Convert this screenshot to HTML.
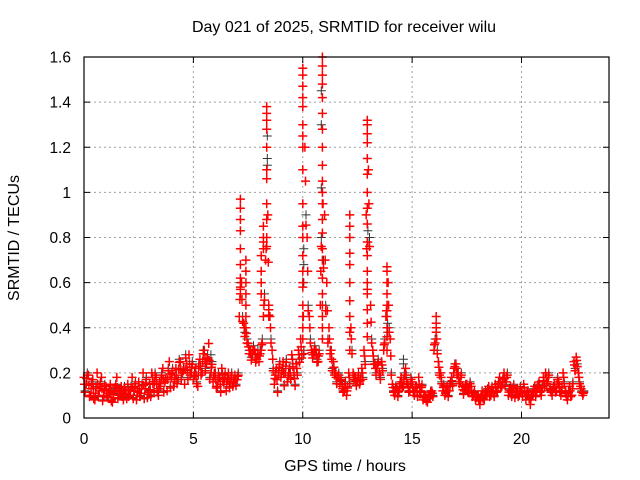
<!DOCTYPE html>
<html><head><meta charset="utf-8"><style>
html,body{margin:0;padding:0;background:#fff}
svg{display:block;font-family:"Liberation Sans",sans-serif}
</style></head><body>
<svg id="chart" width="640" height="480" viewBox="0 0 640 480">
<rect width="640" height="480" fill="#fff"/>
<text x="344" y="32" font-size="16" text-anchor="middle" fill="#000">Day 021 of 2025, SRMTID for receiver wilu</text>
<text transform="translate(19,238) rotate(-90)" font-size="16" text-anchor="middle" fill="#000">SRMTID / TECUs</text>
<text x="345" y="471" font-size="16" text-anchor="middle" fill="#000">GPS time / hours</text>
<g id="grid"></g>
<g id="ticks"></g>
<g id="marks"></g>
<rect x="84" y="57" width="525" height="361" fill="none" stroke="#000" stroke-width="1.2"/>
</svg>
<script>
const xTicks = [0, 5, 10, 15, 20];
const yTicks = [0, 0.2, 0.4, 0.6, 0.8, 1, 1.2, 1.4, 1.6];
const yTickLabels = ["0", "0.2", "0.4", "0.6", "0.8", "1", "1.2", "1.4", "1.6"];
const baseStart = 0;
const baseStep = 0.1;
const baseValues = [
0.18,0.15,0.19,0.1,0.17,0.08,0.2,0.12,0.18,0.1,
0.14,0.09,0.15,0.07,0.12,0.18,0.1,0.14,0.08,0.12,
0.15,0.1,0.18,0.12,0.08,0.16,0.11,0.2,0.13,0.09,
0.15,0.2,0.12,0.18,0.1,0.14,0.22,0.16,0.12,0.25,
0.18,0.14,0.22,0.17,0.25,0.2,0.15,0.24,0.28,0.2,
0.17,0.22,0.14,0.26,0.2,0.3,0.24,0.33,0.2,0.16,
0.2,0.14,0.18,0.22,0.15,0.12,0.2,0.16,0.14,0.19,
0.17,0.45,0.6,0.42,0.4,0.33,0.3,0.28,0.3,0.26,
0.25,0.3,0.45,0.7,0.9,0.45,0.3,0.15,0.22,0.2,
0.18,0.25,0.2,0.16,0.22,0.28,0.2,0.24,0.3,0.35,
0.6,1.2,0.8,0.45,0.3,0.28,0.3,0.25,0.5,1.2,
0.9,0.6,0.4,0.3,0.25,0.2,0.18,0.15,0.14,0.12,
0.1,0.2,0.4,0.2,0.18,0.16,0.15,0.22,0.3,0.9,
1.1,0.5,0.3,0.24,0.22,0.2,0.25,0.3,0.45,0.6,
0.35,0.15,0.1,0.13,0.12,0.18,0.14,0.22,0.15,0.12,
0.16,0.1,0.14,0.18,0.12,0.08,0.1,0.07,0.09,0.12,
0.3,0.4,0.25,0.2,0.12,0.1,0.14,0.12,0.18,0.2,
0.24,0.2,0.16,0.14,0.12,0.15,0.12,0.14,0.1,0.08,
0.1,0.06,0.12,0.08,0.1,0.14,0.1,0.12,0.15,0.12,
0.18,0.14,0.2,0.16,0.1,0.14,0.12,0.09,0.13,0.1,
0.12,0.15,0.08,0.12,0.06,0.1,0.14,0.12,0.16,0.1,
0.18,0.2,0.16,0.13,0.1,0.15,0.12,0.16,0.1,0.2,
0.12,0.08,0.14,0.1,0.25,0.27,0.2,0.14,0.1
];
const altValues = [
0.12,0.2,0.1,0.16,0.09,0.14,0.1,0.16,0.08,0.15,
0.1,0.13,0.08,0.11,0.15,0.09,0.13,0.1,0.14,0.09,
0.1,0.14,0.09,0.16,0.12,0.1,0.15,0.09,0.18,0.12,
0.1,0.16,0.2,0.12,0.16,0.2,0.12,0.18,0.22,0.14,
0.22,0.18,0.16,0.26,0.18,0.22,0.28,0.18,0.2,0.25,
0.2,0.16,0.24,0.2,0.3,0.22,0.28,0.18,0.25,0.2,
0.14,0.2,0.12,0.17,0.2,0.18,0.14,0.2,0.17,0.15,
0.2,0.6,0.45,0.38,0.35,0.3,0.27,0.32,0.26,0.3,
0.3,0.35,0.55,0.8,0.48,0.35,0.22,0.2,0.12,0.25,
0.22,0.15,0.26,0.2,0.18,0.24,0.15,0.2,0.26,0.28,
0.3,0.9,0.5,0.35,0.28,0.32,0.26,0.3,0.8,0.7,
0.5,0.35,0.3,0.22,0.2,0.16,0.2,0.18,0.12,0.16,
0.14,0.16,0.3,0.18,0.15,0.2,0.18,0.18,0.25,0.6,
0.8,0.35,0.25,0.2,0.26,0.18,0.22,0.35,0.5,0.4,
0.2,0.12,0.14,0.1,0.16,0.14,0.2,0.16,0.12,0.18,
0.12,0.14,0.1,0.12,0.15,0.1,0.08,0.1,0.12,0.1,
0.35,0.3,0.2,0.16,0.15,0.12,0.1,0.16,0.15,0.24,
0.2,0.16,0.2,0.11,0.15,0.12,0.16,0.1,0.12,0.1,
0.08,0.1,0.09,0.12,0.13,0.1,0.14,0.1,0.12,0.16,
0.14,0.18,0.15,0.2,0.13,0.1,0.15,0.12,0.1,0.14,
0.1,0.12,0.12,0.09,0.1,0.13,0.1,0.15,0.12,0.14,
0.15,0.16,0.2,0.12,0.14,0.12,0.18,0.12,0.14,0.16,
0.1,0.12,0.1,0.16,0.22,0.24,0.16,0.12,0.12
];
const spikeTimes = [7.15, 7.4, 8.1, 8.2, 8.35, 8.45, 10.0, 10.9, 12.15, 12.95, 13.85, 16.1];
const spikeValues = [
[0.97,0.93,0.88,0.83,0.75,0.68,0.62,0.58,0.55],
[0.7,0.65,0.6,0.55,0.5,0.45],
[0.55,0.6,0.65,0.72],
[0.85,0.8,0.78,0.75],
[1.38,1.35,1.32,1.28,1.2,1.1,1.06,0.95,0.88,0.8],
[0.5,0.48,0.45],
[1.55,1.52,1.47,1.42,1.38,1.3,1.25,1.2,1.1,0.95,0.85,0.8,0.72,0.65,0.58,0.5,0.45,0.4,0.35],
[1.6,1.56,1.52,1.48,1.42,1.35,1.28,1.2,1.12,1.05,1.0,0.95,0.88,0.82,0.75,0.7,0.62,0.55,0.5,0.45,0.4,0.35],
[0.9,0.85,0.8,0.73,0.68,0.6,0.52,0.45,0.38,0.3],
[1.32,1.3,1.26,1.22,1.15,1.08,1.0,0.93,0.86,0.78,0.72,0.65,0.6,0.55,0.48,0.42,0.36],
[0.67,0.65,0.6,0.55,0.5,0.45,0.4,0.36,0.3],
[0.45,0.42,0.38]
];
const blackTimes = [5.8, 8.38, 10.05, 10.85, 12.98, 13.88, 14.6, 16.05];
const blackValues = [
[0.28,0.25],
[1.25,1.15,1.12],
[0.75,0.68,0.6],
[1.45,1.3,1.02],
[0.83,0.78],
[0.42,0.38],
[0.26,0.24],
[0.35]
];

const X0=84, X1=609, Y0=418, Y1=57, XMAX=24, YMAX=1.6;
const sx = t => X0 + (X1-X0)*t/XMAX;
const sy = v => Y0 - (Y0-Y1)*v/YMAX;
const NS='http://www.w3.org/2000/svg';
const grid=document.getElementById('grid'), ticks=document.getElementById('ticks'), marks=document.getElementById('marks');

xTicks.forEach(t=>{
  const x=sx(t);
  if(t>0){
    const g=document.createElementNS(NS,'line');
    
    
    g.setAttribute('x1',x);g.setAttribute('x2',x);g.setAttribute('y1',Y0);g.setAttribute('y2',Y1);
    g.setAttribute('stroke','#a0a0a0');g.setAttribute('stroke-dasharray','2,3');
    grid.appendChild(g);
  }
  const tk=document.createElementNS(NS,'path');
  
  
  tk.setAttribute('d',`M${x},${Y0}v-6M${x},${Y1}v6`);
  tk.setAttribute('stroke','#000');
  ticks.appendChild(tk);
  const lb=document.createElementNS(NS,'text');
  
  
  lb.setAttribute('x',x);lb.setAttribute('y',444);lb.setAttribute('font-size','15.5');lb.setAttribute('text-anchor','middle');
  lb.textContent=String(t);
  ticks.appendChild(lb);
});
yTicks.forEach((v,i)=>{
  const y=sy(v);
  if(v>0 && v<YMAX){
    const g=document.createElementNS(NS,'line');
    
    
    g.setAttribute('x1',X0);g.setAttribute('x2',X1);g.setAttribute('y1',y);g.setAttribute('y2',y);
    g.setAttribute('stroke','#a0a0a0');g.setAttribute('stroke-dasharray','2,3');
    grid.appendChild(g);
  }
  const tk=document.createElementNS(NS,'path');
  
  
  tk.setAttribute('d',`M${X0},${y}h6M${X1},${y}h-6`);
  tk.setAttribute('stroke','#000');
  ticks.appendChild(tk);
  const lb=document.createElementNS(NS,'text');
  
  
  lb.setAttribute('x',71);lb.setAttribute('y',y+5.5);lb.setAttribute('font-size','15.5');lb.setAttribute('text-anchor','end');
  lb.textContent=yTickLabels[i];
  ticks.appendChild(lb);
});

function plus(x,y){return `M${(x-4.5).toFixed(1)},${y.toFixed(1)}h9M${x.toFixed(1)},${(y-4.5).toFixed(1)}v9`;}
let dBlack='', dRed='';
blackTimes.forEach((t,i)=>blackValues[i].forEach(v=>{dBlack+=plus(sx(t),sy(v));}));
altValues.forEach((v,i)=>{dBlack+=plus(sx(baseStart+i*baseStep+0.05),sy(v));});
baseValues.forEach((v,i)=>{dRed+=plus(sx(baseStart+i*baseStep),sy(v));});
altValues.forEach((v,i)=>{dRed+=plus(sx(baseStart+i*baseStep+0.05),sy(v*0.95));});
baseValues.forEach((v,i)=>{dRed+=plus(sx(baseStart+i*baseStep+0.025),sy((v+altValues[i])/2));});
spikeTimes.forEach((t,i)=>spikeValues[i].forEach(v=>{dRed+=plus(sx(t),sy(v));}));

const pb=document.createElementNS(NS,'path');


pb.setAttribute('d',dBlack);pb.setAttribute('stroke','#333');pb.setAttribute('stroke-width','1');pb.setAttribute('fill','none');
marks.appendChild(pb);
const pr=document.createElementNS(NS,'path');


pr.setAttribute('d',dRed);pr.setAttribute('stroke','#ff0000');pr.setAttribute('stroke-width','1.5');pr.setAttribute('fill','none');
marks.appendChild(pr);
</script>
</body></html>
